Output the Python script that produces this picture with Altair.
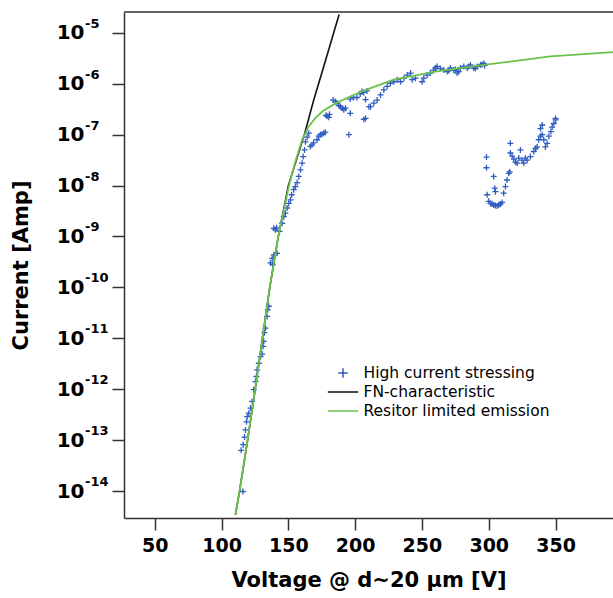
import altair as alt
import pandas as pd

# ---- measured stressing sweep: voltage [V] and log10(current [A]) ----
stress_v = [
    116.0,
    114.7, 116.2, 117.2, 117.9, 118.7, 119.2, 120.4, 121.7, 122.9, 124.1, 125.4, 126.1,
    126.6, 127.9, 129.2, 130.4, 131.1, 131.6, 132.1, 132.9, 134.1, 134.6, 135.4,
    136.6, 137.9, 139.1, 141.6, 138.3,
    139.1, 140.3, 141.2, 143.4,
    145.4, 146.6, 147.8, 149.1, 150.3, 151.6, 152.5,
    154.0, 155.3, 156.6, 157.8, 159.1, 160.3, 161.1, 162.1, 162.8, 164.1, 165.3,
    166.5, 167.7, 168.9, 171.5, 172.7, 174.0, 175.2, 176.4, 177.7,
    178.2, 179.0, 180.3, 180.8,
    183.5, 185.3, 186.5, 187.8, 189.0, 190.3, 191.5, 192.8,
    196.3, 198.8, 201.3, 203.8, 206.3, 208.8,
    196.3, 195.3, 207.8, 206.5, 210.3, 207.8, 205.0,
    211.5, 214.0, 216.5, 219.0, 221.5, 224.0, 226.4,
    229.0, 231.5, 234.0, 236.5, 239.0, 241.5,
    242.7, 245.2,
    250.1, 251.4, 253.9, 256.3, 258.8, 260.1, 261.3,
    263.8, 266.3, 268.9, 270.0, 271.3, 273.8, 275.0, 276.3, 277.5, 278.8, 281.3, 283.8,
    285.0, 286.3, 288.8, 290.0, 291.3, 293.8, 295.0, 296.3, 297.0,
    298.3, 298.3, 303.7, 298.8, 304.5, 305.0,
    300.0, 301.3, 302.5, 303.7, 305.0, 306.3, 307.5, 308.8, 310.0,
    311.2, 312.5, 313.7, 314.9, 315.7,
    316.2, 316.2, 317.5, 318.8, 320.0, 321.3, 322.5, 323.7, 324.9, 326.2, 327.4, 328.7,
    331.2, 333.7, 335.0, 336.2,
    337.4, 338.7, 340.0, 341.2, 342.4, 343.7, 345.0, 346.5, 347.5, 348.7, 350.0, 350.0,
    340.0, 338.7,
]
stress_log_i = [
    -14.01,
    -13.20, -13.09, -12.94, -12.80, -12.64, -12.54, -12.47, -12.37, -12.24, -12.01, -11.85, -11.75,
    -11.62, -11.49, -11.36, -11.31, -11.16, -11.06, -10.89, -10.80, -10.57, -10.44, -10.37,
    -9.52, -9.43, -9.36, -9.33, -9.55,
    -8.84, -8.87, -8.83, -8.90,
    -8.74, -8.61, -8.54, -8.44, -8.35, -8.28, -8.18,
    -8.08, -8.02, -7.94, -7.82, -7.69, -7.56, -7.43, -7.30, -7.14, -7.05, -6.97,
    -7.23, -7.20, -7.16, -7.10, -7.03, -7.00, -6.99, -6.97, -6.95,
    -6.62, -6.64, -6.66, -6.60,
    -6.32, -6.35, -6.38, -6.43, -6.45, -6.48, -6.51, -6.48,
    -6.30, -6.27, -6.27, -6.20, -6.17, -6.14,
    -6.58, -7.00, -6.68, -6.70, -6.45, -6.31, -6.15,
    -6.45, -6.38, -6.32, -6.22, -6.12, -6.05, -5.99,
    -5.96, -5.92, -5.96, -5.89, -5.83, -5.79,
    -5.92, -5.89,
    -5.96, -5.89, -5.83, -5.79, -5.73, -5.69, -5.66,
    -5.70, -5.73, -5.76, -5.74, -5.69, -5.73, -5.72, -5.79, -5.76, -5.69, -5.66, -5.69,
    -5.66, -5.63, -5.69, -5.70, -5.66, -5.63, -5.62, -5.60, -5.64,
    -7.44, -7.65, -7.82, -8.18, -8.05, -8.12,
    -8.31, -8.35, -8.36, -8.38, -8.39, -8.40, -8.38, -8.36, -8.33,
    -8.15, -8.02, -7.89, -7.76, -7.73,
    -7.17, -7.36, -7.42, -7.48, -7.54, -7.56, -7.46, -7.30, -7.50, -7.56, -7.46, -7.50,
    -7.43, -7.33, -7.27, -7.24,
    -7.10, -7.03, -7.00, -7.10, -7.24, -7.17, -7.03, -6.94, -6.85, -6.78, -6.71, -6.68,
    -6.81, -6.88,
]

# ---- Fowler-Nordheim characteristic ----
fn_v = [110.4, 113.5, 119.5, 125.2, 130.6, 136.1, 142.5, 150.0, 156.6, 162.3, 169.0, 176.5, 188.0]
fn_log_i = [-14.47, -14.0, -13.0, -12.0, -11.0, -10.0, -9.0, -8.0, -7.45, -6.97, -6.32, -5.66, -4.64]

# ---- emission limited by the series resistor ----
res_v = [110.4, 113.5, 119.5, 125.2, 130.6, 136.1, 142.5, 150.5, 155.0, 160.3, 165.0, 170.0,
         176.0, 186.5, 196.3, 209.0, 229.0, 260.0, 296.3, 346.3, 393.0]
res_log_i = [-14.47, -14.0, -13.0, -12.0, -11.0, -10.0, -9.0, -8.0, -7.55, -7.10, -6.85, -6.68,
             -6.53, -6.37, -6.25, -6.11, -5.92, -5.76, -5.63, -5.46, -5.38]

series_names = ["High current stressing", "FN-characteristic", "Resitor limited emission"]
series_colors = ["#2f5cc0", "#111111", "#6cc24a"]
# plus marker for the data, short horizontal stroke for the two curves
series_shapes = ["M-0.5,0H0.5M0,-0.5V0.5", "M-1.6,0H1.6", "M-1.6,0H1.6"]

x_ticks = [50, 100, 150, 200, 250, 300, 350]
y_exponents = [-14, -13, -12, -11, -10, -9, -8, -7, -6, -5]
y_exponent_labels = [str(e) for e in y_exponents]

x_domain = [27, 393]
y_domain = [2.95e-15, 2.57e-5]

W, H = 489, 506
AX_FONT = "DejaVu Sans"


def frame(v, logi, name):
    return pd.DataFrame({"V": v, "I": [10.0 ** e for e in logi], "series": name})


pts = frame(stress_v, stress_log_i, series_names[0])
fn = frame(fn_v, fn_log_i, series_names[1])
res = frame(res_v, res_log_i, series_names[2])
exps = pd.DataFrame({"I": [10.0 ** e for e in y_exponents], "label": y_exponent_labels})

x_enc = alt.X(
    "V:Q",
    scale=alt.Scale(domain=x_domain, nice=False, zero=False),
    axis=alt.Axis(values=x_ticks, title="Voltage @ d~20 μm [V]", titlePadding=14, labelPadding=6),
)
# decade labels: base "10" on the axis, the exponent set as a raised text next to it
y_enc = alt.Y(
    "I:Q",
    scale=alt.Scale(type="log", domain=y_domain, nice=False),
    axis=alt.Axis(values=[10.0 ** e for e in y_exponents], labelExpr="'10'",
                  title="Current [Amp]", titlePadding=25, labelPadding=28, labelFontSize=20),
)

legend = alt.Legend(
    title=None, orient="none", legendX=208.5, legendY=350.5,
    symbolSize=361, symbolStrokeWidth=1.5, labelFont=AX_FONT, labelFontSize=15.5,
    labelColor="black", labelOffset=10, rowPadding=0, padding=0, labelLimit=0,
)
color_enc = alt.Color("series:N", scale=alt.Scale(domain=series_names, range=series_colors), legend=legend)
shape_enc = alt.Shape("series:N", scale=alt.Scale(domain=series_names, range=series_shapes), legend=legend)

fn_line = alt.Chart(fn).mark_line(strokeWidth=1.6, clip=True).encode(x=x_enc, y=y_enc, color=color_enc)
points = alt.Chart(pts).mark_point(filled=False, size=144, strokeWidth=1.3, opacity=1, clip=True).encode(
    x=x_enc, y=y_enc, color=color_enc, shape=shape_enc
)
res_line = alt.Chart(res).mark_line(strokeWidth=1.8, clip=True).encode(x=x_enc, y=y_enc, color=color_enc)

exp_text = alt.Chart(exps).mark_text(
    align="left", baseline="middle", dy=-9, font=AX_FONT, fontWeight="bold", fontSize=13, color="black"
).encode(x=alt.value(-39), y=alt.Y("I:Q"), text="label:N")

# top edge of the frame
top_edge = alt.Chart(pd.DataFrame({"k": [0]})).mark_rule(color="#333333", strokeWidth=1.5).encode(
    x=alt.value(0), x2=alt.value(W), y=alt.value(0)
)

chart = (
    alt.layer(fn_line, points, res_line, exp_text, top_edge)
    .properties(
        width=W, height=H,
        autosize=alt.AutoSizeParams(type="none"),
        padding={"left": 124, "top": 12, "right": 0, "bottom": 80},
        background="white",
    )
    .configure_view(stroke=None)
    .configure_axis(
        grid=False, domainColor="#333333", domainWidth=1.5, tickColor="#333333",
        tickWidth=1.5, tickSize=12, labelFont=AX_FONT, labelFontWeight="bold",
        labelFontSize=19, labelColor="black", titleFont=AX_FONT, titleFontWeight="bold",
        titleFontSize=21, titleColor="black",
    )
)

chart.save("out.html", embed_options={"renderer": "svg", "actions": False})
